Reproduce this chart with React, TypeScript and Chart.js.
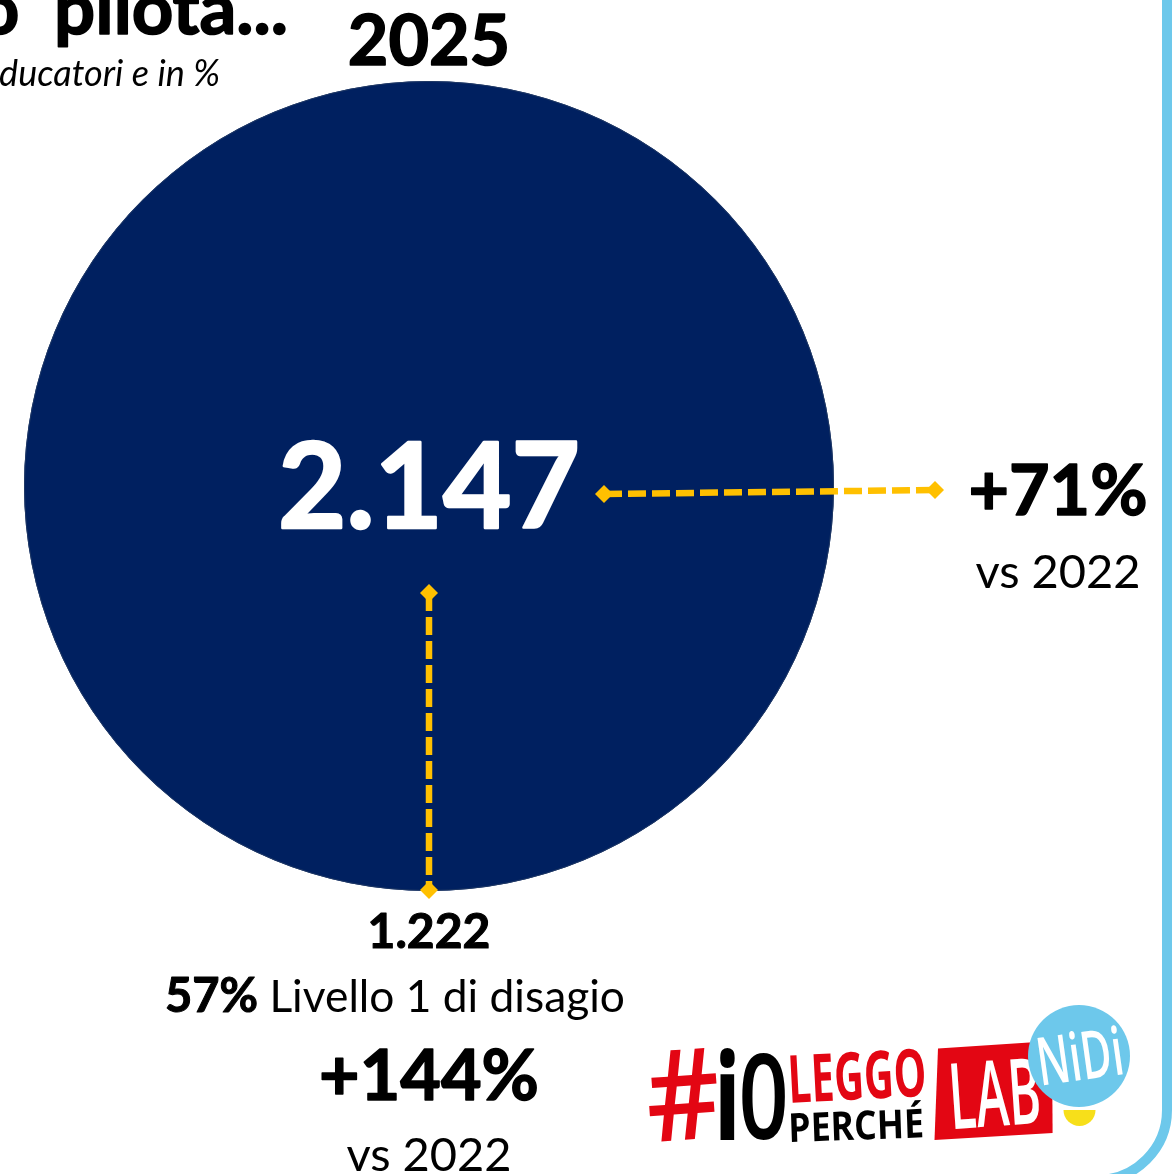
import React, { useEffect, useRef } from "react";
import { Chart, registerables } from "chart.js";

Chart.register(...registerables);

const categories = ["2025"];
const totalValues = [2147];
const totalLabels = ["2.147"];
const level1Labels = ["1.222"];
const level1Share = ["57%"];
const level1Text = " Livello 1 di disagio";
const growthTotal = "+71%";
const growthLevel1 = "+144%";
const comparison = "vs 2022";
const titleFragment = "o pilota...";
const subtitleFragment = "ducatori e in %";

const NAVY = "#002060";
const GOLD = "#FFC000";
const SKY = "#6DC8EB";
const RED = "#E30613";
const FONT = "Lato";

function put(ctx: CanvasRenderingContext2D, s: string, x: number, y: number, size: number, weight: string, align: CanvasTextAlign, color = "#000", style = "") {
  ctx.font = `${style} ${weight} ${size}px ${FONT}`;
  ctx.textAlign = align;
  ctx.textBaseline = "alphabetic";
  ctx.fillStyle = color;
  ctx.fillText(s, x, y);
  if (weight === "700") {
    // Thickens Lato Bold towards the heavier face of the reference.
    ctx.strokeStyle = color;
    ctx.lineWidth = size * 0.022;
    ctx.lineJoin = "round";
    ctx.strokeText(s, x, y);
  }
}

// Logo lettering: stretches the text into a box, tilted about the box centre.
function fit(ctx: CanvasRenderingContext2D, s: string, x0: number, x1: number, y0: number, y1: number, color: string, deg = 0, font = "800 100px 'Open Sans'") {
  ctx.save();
  ctx.font = font;
  ctx.textAlign = "left";
  ctx.textBaseline = "alphabetic";
  const m = ctx.measureText(s);
  const w = m.actualBoundingBoxLeft + m.actualBoundingBoxRight;
  const h = m.actualBoundingBoxAscent + m.actualBoundingBoxDescent;
  ctx.translate((x0 + x1) / 2, (y0 + y1) / 2);
  ctx.rotate((deg * Math.PI) / 180);
  ctx.scale((x1 - x0) / w, (y1 - y0) / h);
  ctx.fillStyle = color;
  ctx.fillText(s, -w / 2 + m.actualBoundingBoxLeft, -h / 2 + m.actualBoundingBoxAscent);
  ctx.restore();
}

function diamond(ctx: CanvasRenderingContext2D, x: number, y: number, r: number) {
  ctx.beginPath();
  ctx.moveTo(x - r, y);
  ctx.lineTo(x, y - r);
  ctx.lineTo(x + r, y);
  ctx.lineTo(x, y + r);
  ctx.closePath();
  ctx.fill();
}

function connector(ctx: CanvasRenderingContext2D, x0: number, y0: number, x1: number, y1: number) {
  ctx.save();
  ctx.strokeStyle = GOLD;
  ctx.fillStyle = GOLD;
  ctx.lineWidth = 6.5;
  ctx.setLineDash([18, 6]);
  ctx.beginPath();
  ctx.moveTo(x0, y0);
  ctx.lineTo(x1, y1);
  ctx.stroke();
  ctx.setLineDash([]);
  diamond(ctx, x0, y0, 9);
  diamond(ctx, x1, y1, 9);
  ctx.restore();
}

const overlay = {
  id: "overlay",
  afterDraw(chart: any) {
    const ctx: CanvasRenderingContext2D = chart.ctx;
    const arc = chart.getDatasetMeta(0).data[0];
    const cx: number = arc.x;
    const cy: number = arc.y;
    const r: number = arc.outerRadius;

    ctx.save();
    // thin outline of the disc
    ctx.strokeStyle = "#1F3864";
    ctx.lineWidth = 1;
    ctx.beginPath();
    ctx.arc(cx, cy, r - 0.5, 0, Math.PI * 2);
    ctx.stroke();

    // panel border
    ctx.strokeStyle = SKY;
    ctx.lineWidth = 10;
    ctx.beginPath();
    ctx.moveTo(1167, -5);
    ctx.lineTo(1167, 1110);
    ctx.arc(1097, 1110, 70, 0, Math.PI / 2);
    ctx.lineTo(900, 1180);
    ctx.stroke();

    // header
    (ctx as any).wordSpacing = "17px";
    put(ctx, titleFragment, 288, 34, 72.5, "700", "right");
    (ctx as any).wordSpacing = "0px";
    put(ctx, subtitleFragment, 220, 86, 36, "400", "right", "#000", "italic");
    put(ctx, categories[0], cx, 65, 70, "700", "center");

    // centre
    put(ctx, totalLabels[0], cx, 528, 118, "700", "center", "#fff");

    // connectors
    connector(ctx, cx + 175, cy + 8, cx + 506, cy + 4);
    connector(ctx, cx, cy + 107, cx, cy + 404);

    // right note
    put(ctx, growthTotal, 1058, 515, 70, "700", "center");
    put(ctx, comparison, 1058, 588, 47, "400", "center");

    // lower notes
    put(ctx, level1Labels[0], cx, 948, 48, "700", "center");
    put(ctx, level1Share[0], 165, 1012, 47, "700", "left");
    ctx.font = `700 47px ${FONT}`;
    const shareWidth = ctx.measureText(level1Share[0]).width;
    put(ctx, level1Text, 165 + shareWidth, 1012, 44.3, "400", "left");
    put(ctx, growthLevel1, cx, 1100, 70, "700", "center");
    put(ctx, comparison, cx, 1171, 47, "400", "center");

    // logo
    fit(ctx, "#", 648, 718, 1050, 1141, RED, -4, "600 100px 'Open Sans'");
    fit(ctx, "i", 720, 735, 1048, 1140, "#000", 0);
    fit(ctx, "0", 742, 785, 1053, 1140, "#000", 0, "600 100px 'Open Sans'");
    fit(ctx, "LEGGO", 791, 924, 1051, 1100, RED, -3, "700 100px 'Open Sans'");
    fit(ctx, "PERCHÉ", 791, 922, 1102, 1140, "#000", -2, "700 100px 'Open Sans'");
    ctx.fillStyle = RED;
    ctx.beginPath();
    ctx.moveTo(938, 1048.5);
    ctx.lineTo(1052, 1041);
    ctx.lineTo(1052.6, 1133);
    ctx.lineTo(934.5, 1140);
    ctx.closePath();
    ctx.fill();
    fit(ctx, "LAB", 953, 1038, 1060, 1126, "#fff", -4, "600 100px 'Open Sans'");
    ctx.fillStyle = "#F7DF1A";
    ctx.beginPath();
    ctx.arc(1079.5, 1110, 16, 0, Math.PI);
    ctx.closePath();
    ctx.fill();
    ctx.fillStyle = SKY;
    ctx.beginPath();
    ctx.arc(1079, 1056, 51, 0, Math.PI * 2);
    ctx.fill();
    fit(ctx, "NiDi", 1040, 1120, 1030, 1080, "#fff", -8, "600 100px 'Open Sans'");
    ctx.restore();
  },
};

export default function App() {
  const ref = useRef<HTMLCanvasElement>(null);
  useEffect(() => {
    const chart = new Chart(ref.current!, {
      type: "doughnut",
      data: {
        labels: categories,
        datasets: [{ data: totalValues, backgroundColor: [NAVY], borderWidth: 0 }],
      },
      options: {
        responsive: false,
        animation: false,
        cutout: 0,
        layout: { padding: { left: 24, right: 339, top: 81, bottom: 283 } },
        plugins: { legend: { display: false }, tooltip: { enabled: false } },
      },
      plugins: [overlay],
    } as any);
    return () => chart.destroy();
  }, []);
  return (
    <div style={{ position: "absolute", left: 0, top: 0, width: 1173, height: 1174, background: "#fff", overflow: "hidden" }}>
      <canvas ref={ref} width={1173} height={1174} style={{ display: "block" }} />
    </div>
  );
}
